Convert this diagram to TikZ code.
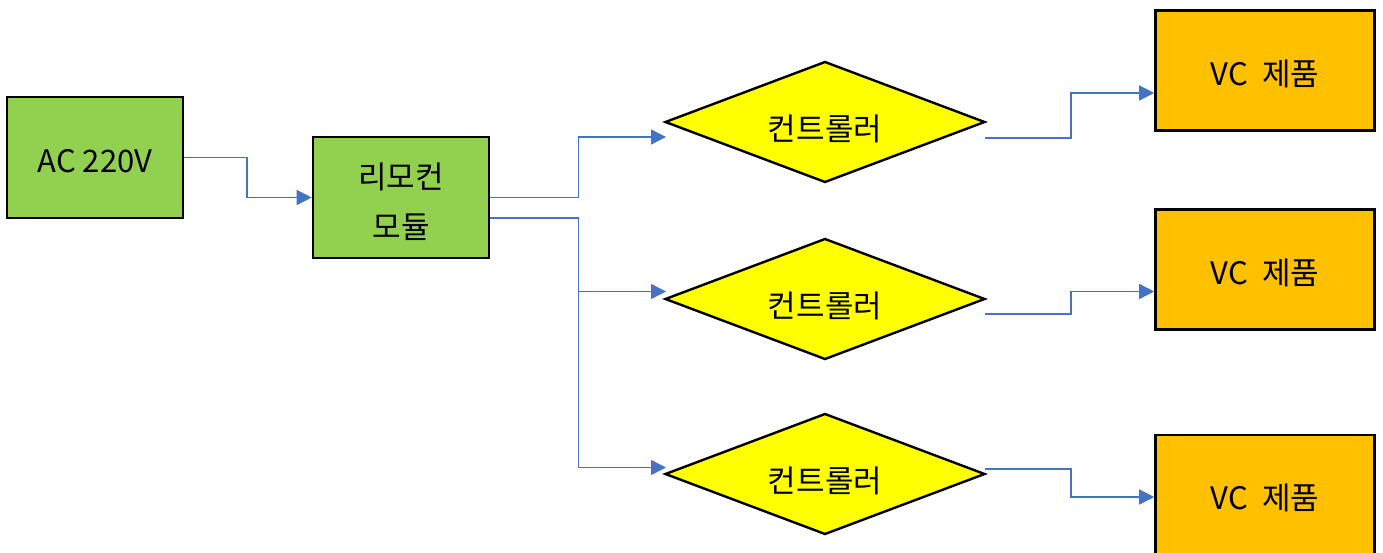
\documentclass[tikz,border=0pt]{standalone}
\usepackage{fontspec}
\setmainfont{Noto Sans CJK KR}
\usetikzlibrary{shapes.geometric,arrows.meta,calc}
\definecolor{boxgreen}{HTML}{92D050}
\definecolor{boxorange}{HTML}{FFC000}
\definecolor{dyellow}{HTML}{FFFF00}
\definecolor{connblue}{HTML}{4472C4}
\tikzset{
  lbl/.style={font=\fontsize{31}{38}\selectfont},
  greenbox/.style={draw=black, line width=2.6pt, fill=boxgreen, minimum width=176pt, minimum height=121pt, inner sep=0pt, align=center},
  orangebox/.style={draw=black, line width=2.6pt, fill=boxorange, minimum width=219pt, minimum height=120pt, inner sep=0pt},
  ctrl/.style={diamond, draw=black, line width=2.4pt, fill=dyellow, minimum width=320pt, minimum height=121pt, inner sep=0pt},
  conn/.style={draw=connblue, line width=1.4pt},
  arr/.style={conn, -{Triangle[length=15pt,width=15pt]}}
}
\begin{document}
\begin{tikzpicture}[x=1pt,y=-1pt]
\useasboundingbox (0,0) rectangle (1383,552);
\clip (0,0) rectangle (1383,552);
\node[greenbox] (ac) at (95,157.5) {};
\node[greenbox] (rm) at (401,197.5) {};
\node[ctrl] (c1) at (825,122) {};
\node[ctrl] (c2) at (825,299) {};
\node[ctrl] (c3) at (825,474) {};
\node[orangebox] (v1) at (1265,70.5) {};
\node[orangebox] (v2) at (1265,269.5) {};
\node[orangebox, minimum height=122pt] (v3) at (1265,496) {};
\node[lbl, anchor=center] (acl) at ($(ac.center)+(0,4)$) {AC 220V};
\node[lbl, anchor=center, align=center] (rml) at ($(rm.center)+(0,4)$) {리모컨\\[12pt]모듈};
\node[lbl] (c1l) at ($(c1.center)+(0,7)$) {컨트롤러};
\node[lbl] (c2l) at ($(c2.center)+(0,7)$) {컨트롤러};
\node[lbl] (c3l) at ($(c3.center)+(0,7)$) {컨트롤러};
\node[lbl] (v1l) at ($(v1.center)+(0,3)$) {VC\ \ 제품};
\node[lbl] (v2l) at ($(v2.center)+(0,3)$) {VC\ \ 제품};
\node[lbl] (v3l) at ($(v3.center)+(0,2)$) {VC\ \ 제품};
\coordinate (acb) at (247,157.5);
\coordinate (rm2) at ($(rm.east)+(0,20.5)$);
\coordinate (sp) at (578.5,197.5);
\coordinate (sp2) at (578.5,218);
\coordinate (t1) at (666,137);
\coordinate (t2) at (666,291.5);
\coordinate (t3) at (666,467.5);
\coordinate (o1) at (985,138);
\coordinate (o2) at (985,314);
\coordinate (o3) at (985,469);
\coordinate (in1) at ($(v1.west)+(0,22.5)$);
\coordinate (in2) at ($(v2.west)+(0,22)$);
\coordinate (in3) at ($(v3.west)+(0,1)$);
\draw[arr] (ac.east) -- (acb) |- (rm.west);
\draw[conn] (rm.east) -- (sp);
\draw[conn] (rm2) -- (sp2);
\draw[arr] (sp) |- (t1);
\draw[arr] (sp2) |- (t2);
\draw[arr] (sp2) |- (t3);
\draw[arr] (o1) -- (1071,138) |- (in1);
\draw[arr] (o2) -- (1071,314) |- (in2);
\draw[arr] (o3) -- (1071,469) |- (in3);
\end{tikzpicture}
\end{document}
